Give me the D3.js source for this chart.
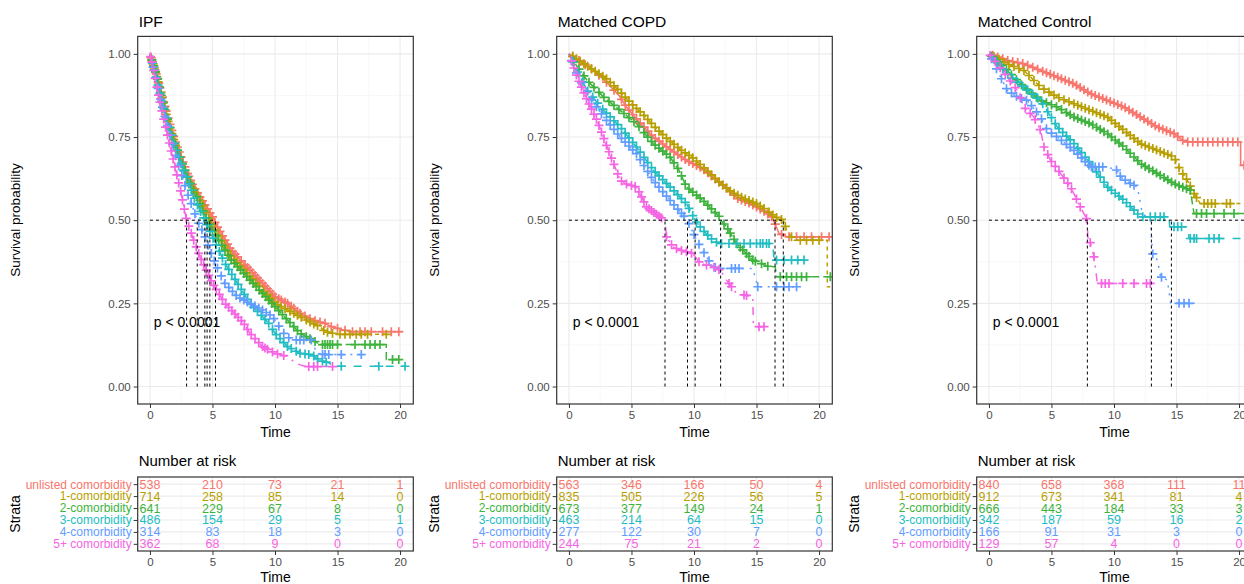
<!DOCTYPE html>
<html><head><meta charset="utf-8">
<script src="https://cdn.jsdelivr.net/npm/d3@7"></script>
<style>body{margin:0;background:#fff}svg{display:block;font-family:"Liberation Sans",Arial,sans-serif}</style>
</head><body><svg id="c" width="1244" height="584"></svg>
<script>
// ---------- DATA ----------
const strata = ["unlisted comorbidity","1-comorbidity","2-comorbidity","3-comorbidity","4-comorbidity","5+ comorbidity"];
const colors = ["#F8766D","#B79F00","#3DB33D","#22BDC2","#619CFF","#F564E3"];
const dashes = [null,"4,4","8,4","8,8","2,6","2,6,8,6"];
const panelTitles = ["IPF","Matched COPD","Matched Control"];
const xTicks = [0,5,10,15,20];
const yTicks = [0,0.25,0.5,0.75,1];
const yTickLabels = ["0.00","0.25","0.50","0.75","1.00"];
const riskTimes = [0,5,10,15,20];
const pLabel = "p < 0.0001";

// IPF curves [time, survival]
const ipf_unlisted = [[0,1],[0.5,0.94],[1,0.87],[1.5,0.80],[2,0.74],[2.5,0.69],[3,0.64],[3.5,0.60],[4,0.57],[4.5,0.54],[5,0.51],[5.24,0.49],[6,0.44],[6.5,0.41],[7,0.39],[7.5,0.37],[8,0.35],[8.5,0.33],[9,0.31],[9.5,0.29],[10,0.27],[10.5,0.26],[11,0.25],[12,0.22],[13,0.20],[14,0.19],[14.5,0.18],[15.5,0.17],[16,0.165],[20.2,0.165]];
const ipf_c1 = [[0,1],[0.5,0.94],[1,0.86],[1.5,0.79],[2,0.73],[2.5,0.68],[3,0.63],[3.5,0.59],[4,0.56],[4.5,0.52],[4.79,0.50],[5.5,0.45],[6,0.42],[6.5,0.39],[7,0.37],[7.5,0.35],[8,0.33],[8.5,0.31],[9,0.29],[9.5,0.27],[10,0.25],[11,0.23],[12,0.21],[13,0.19],[13.6,0.18],[14,0.165],[15,0.157],[19.3,0.157]];
const ipf_c2 = [[0,1],[0.5,0.94],[1,0.86],[1.5,0.79],[2,0.73],[2.5,0.68],[3,0.63],[3.5,0.59],[4,0.55],[4.57,0.50],[5,0.47],[5.5,0.44],[6,0.41],[6.5,0.38],[7,0.36],[7.5,0.34],[8,0.32],[8.5,0.30],[9,0.28],[9.5,0.26],[10,0.24],[10.5,0.22],[11,0.20],[11.5,0.18],[12,0.16],[12.5,0.15],[13,0.14],[13.6,0.126],[18.9,0.126],[18.9,0.081],[19.9,0.081]];
const ipf_c3 = [[0,1],[0.5,0.93],[1,0.85],[1.5,0.78],[2,0.72],[2.5,0.67],[3,0.62],[3.5,0.57],[4,0.53],[4.39,0.50],[5,0.45],[5.5,0.41],[6,0.37],[6.5,0.34],[7,0.31],[7.5,0.28],[8,0.25],[8.5,0.23],[9,0.21],[9.5,0.19],[10,0.16],[10.5,0.14],[11,0.12],[12,0.10],[13,0.095],[13.5,0.08],[14.4,0.07],[14.5,0.061],[20.5,0.061]];
const ipf_c4 = [[0,1],[0.5,0.92],[1,0.84],[1.5,0.77],[2,0.70],[2.5,0.64],[3,0.58],[3.5,0.53],[3.78,0.50],[4.3,0.46],[5,0.39],[5.6,0.34],[6,0.31],[6.5,0.29],[7,0.27],[8,0.25],[9,0.23],[9.8,0.21],[10.5,0.17],[10.9,0.15],[11.5,0.14],[13,0.14],[13.3,0.10],[14,0.096],[16.9,0.096]];
const ipf_c5 = [[0,1],[0.3,0.95],[0.6,0.89],[1,0.82],[1.5,0.74],[2,0.66],[2.5,0.58],[2.93,0.50],[3.5,0.44],[4,0.39],[4.5,0.35],[5,0.31],[5.5,0.28],[6,0.25],[6.5,0.23],[7,0.21],[7.5,0.19],[8,0.16],[8.5,0.14],[9,0.12],[9.5,0.11],[10,0.10],[10.5,0.095],[11,0.09],[11.5,0.075],[12,0.065],[12.5,0.06],[14.6,0.06]];
const ipf_medians = [2.93,3.78,4.39,4.57,4.79,5.24];

// IPF censor times
const ipf_unlisted_cens = [0.1,0.2,0.3,0.4,0.5,0.6,0.7,0.8,0.9,1.0,1.1,1.2,1.3,1.45,1.6,1.75,1.9,2.05,2.2,2.35,2.5,2.65,2.8,3.0,3.1,3.25,3.4,3.6,3.8,4.0,4.2,4.4,4.6,4.8,5.0,5.2,5.4,5.6,5.8,6.0,6.2,6.4,6.6,6.8,7.0,7.3,7.6,7.8,8.0,8.2,8.4,8.6,8.8,9.0,9.2,9.4,9.6,9.8,10.0,10.3,10.5,10.8,11.0,11.3,11.5,11.8,12.0,12.4,12.8,13.2,13.6,14.0,14.5,15.0,15.6,16.2,16.8,17.2,17.7,18.6,19.3,19.9];
const ipf_c1_cens = [0.15,0.25,0.35,0.45,0.55,0.65,0.75,0.85,0.95,1.05,1.15,1.3,1.45,1.6,1.75,1.9,2.05,2.2,2.4,2.6,2.8,3.0,3.2,3.4,3.6,3.8,4.0,4.2,4.45,4.7,4.95,5.2,5.45,5.7,5.95,6.2,6.45,6.7,6.95,7.2,7.45,7.7,7.95,8.2,8.45,8.7,9.1,9.4,9.6,9.9,10.2,10.5,10.8,11.2,11.5,11.8,12.1,12.5,12.8,13.1,13.4,13.9,14.2,14.6,15.2,15.6,16.0,16.5,16.9,17.4,18.9];
const ipf_c2_cens = [0.15,0.3,0.45,0.6,0.75,0.9,1.05,1.2,1.4,1.6,1.8,2.0,2.2,2.4,2.6,2.8,3.0,3.25,3.5,3.75,4.0,4.25,4.5,4.75,5.0,5.25,5.5,5.75,6.0,6.25,6.5,6.75,7.0,7.25,7.5,7.75,8.0,8.25,8.5,8.75,9.0,9.25,9.5,9.75,10.0,10.3,10.6,10.9,11.2,11.5,11.8,12.1,12.5,12.8,13.2,13.8,14.0,14.2,14.4,14.6,15.0,16.4,17.2,17.6,18.0,18.4,19.4,19.9];
const ipf_c3_cens = [0.2,0.35,0.5,0.65,0.8,0.95,1.1,1.3,1.5,1.7,1.9,2.1,2.3,2.5,2.7,2.9,3.1,3.3,3.55,3.8,4.05,4.3,4.55,4.8,5.05,5.3,5.55,5.8,6.05,6.3,6.55,6.8,7.05,7.3,7.55,7.8,8.05,8.3,8.6,8.9,9.2,9.5,9.8,10.1,10.4,10.7,11.0,11.3,11.7,12.0,12.4,12.7,13.1,13.4,13.8,14.1,15.3,18.3,20.4];
const ipf_c4_cens = [0.25,0.45,0.65,0.85,1.0,1.2,1.4,1.6,1.8,2.05,2.3,2.55,2.8,3.05,3.3,3.6,3.9,4.15,4.4,4.65,4.9,5.15,5.4,5.7,6.0,6.3,6.6,6.9,7.2,7.5,7.8,8.1,8.4,8.7,9.0,9.3,9.6,9.9,10.3,10.7,11.1,11.7,12.0,12.3,12.9,13.8,14.0,14.3,15.3,16.9];
const ipf_c5_cens = [0.05,0.15,0.3,0.42,0.55,0.68,0.8,0.95,1.1,1.25,1.4,1.55,1.7,1.85,2.0,2.15,2.3,2.45,2.6,2.75,2.9,3.1,3.3,3.5,3.7,3.9,4.1,4.3,4.5,4.7,4.9,5.1,5.3,5.55,5.8,6.05,6.3,6.55,6.8,7.05,7.3,7.55,7.8,8.1,8.4,8.7,9.0,9.2,9.4,9.8,10.2,10.7,12.7,13.1,13.4,14.6];

// COPD curves
const copd_unlisted = [[0,1],[1,0.975],[2,0.95],[3,0.915],[4,0.875],[4.6,0.84],[5.5,0.80],[6.75,0.75],[8,0.715],[9.4,0.68],[10.7,0.655],[11.5,0.63],[12.5,0.60],[13.5,0.565],[14.5,0.55],[15.5,0.53],[16.2,0.51],[16.48,0.49],[16.8,0.46],[17.5,0.45],[20.9,0.45]];
const copd_c1 = [[0,1],[1,0.975],[2,0.95],[3,0.925],[4,0.89],[5,0.85],[6,0.815],[7,0.775],[8,0.74],[9,0.71],[10,0.685],[11,0.65],[12,0.615],[13,0.585],[14,0.565],[15,0.55],[15.8,0.53],[16.5,0.51],[17.14,0.50],[17.4,0.47],[18,0.44],[20.66,0.44],[20.66,0.30],[20.9,0.30]];
const copd_c2 = [[0,1],[0.5,0.97],[1.46,0.92],[2.78,0.87],[4.1,0.83],[5.4,0.79],[6.75,0.73],[8.08,0.69],[8.8,0.65],[9.4,0.60],[10.7,0.56],[12.05,0.51],[12.13,0.50],[12.6,0.48],[13.4,0.43],[14.7,0.38],[16,0.36],[16.5,0.36],[16.6,0.33],[20.9,0.33]];
const copd_c3 = [[0,1],[0.5,0.96],[1.46,0.89],[2.78,0.83],[4.1,0.78],[5.4,0.72],[6.75,0.65],[8.08,0.60],[9.4,0.55],[10.09,0.50],[10.7,0.47],[11.5,0.44],[12,0.43],[16.3,0.43],[16.4,0.38],[18.8,0.38]];
const copd_c4 = [[0,1],[0.5,0.95],[1.46,0.88],[2.78,0.81],[4.1,0.75],[5.4,0.70],[6.75,0.62],[8.08,0.56],[9.48,0.50],[10.2,0.44],[11,0.39],[11.5,0.36],[12,0.355],[14.7,0.355],[15.1,0.30],[18.3,0.30]];
const copd_c5 = [[0,1],[0.66,0.93],[1.46,0.86],[2.25,0.80],[3.05,0.72],[4.1,0.62],[4.5,0.61],[5.4,0.60],[6.2,0.54],[7.28,0.51],[7.68,0.50],[7.8,0.45],[8.3,0.42],[8.9,0.41],[9.9,0.40],[10.5,0.37],[11.5,0.36],[12.1,0.35],[12.6,0.32],[13.4,0.28],[14.7,0.27],[14.75,0.18],[16.0,0.18]];
const copd_medians = [7.68,9.48,10.09,12.13,16.48,17.14];

const copd_unlisted_cens = [0.3,0.8,1.3,1.8,2.4,3.0,3.6,4.2,4.5,4.8,5.1,5.4,5.7,6.0,6.3,6.6,6.9,7.2,7.5,7.8,8.1,8.4,8.7,9.0,9.3,9.6,9.9,10.2,10.5,10.8,11.1,11.4,11.7,12.0,12.3,12.6,12.9,13.2,13.5,13.8,14.1,14.4,14.7,15.0,15.3,15.6,15.9,16.2,16.5,17.0,17.6,18.2,18.8,19.4,20.2,20.8];
const copd_c1_cens = [0.3,0.6,0.9,1.2,1.5,1.8,2.1,2.4,2.7,3.0,3.3,3.6,3.9,4.2,4.5,4.8,5.1,5.4,5.7,6.0,6.3,6.6,6.9,7.2,7.5,7.8,8.1,8.4,8.7,9.0,9.3,9.6,9.9,10.2,10.5,10.8,11.1,11.4,11.7,12.0,12.3,12.6,12.9,13.2,13.5,13.8,14.1,14.4,14.7,15.0,15.3,15.6,16.0,16.3,16.6,17.0,17.3,17.8,18.5,19.0,19.5,20.0];
const copd_c2_cens = [0.4,0.8,1.2,1.6,2.0,2.4,2.8,3.2,3.6,4.0,4.4,4.8,5.2,5.6,6.0,6.3,6.6,6.9,7.2,7.5,7.8,8.1,8.4,8.7,9.0,9.3,9.6,9.9,10.2,10.5,10.8,11.1,11.4,11.7,12.0,12.4,12.7,12.9,13.2,13.4,13.7,13.9,14.2,14.4,14.7,14.9,15.4,15.9,16.9,17.4,17.8,18.2,18.6,19.0,20.9];
const copd_c3_cens = [0.3,0.7,1.1,1.5,1.9,2.3,2.7,3.0,3.3,3.6,3.9,4.2,4.5,4.8,5.1,5.4,5.7,6.0,6.3,6.6,6.9,7.2,7.5,7.8,8.1,8.4,8.7,9.0,9.3,9.6,9.9,10.2,10.5,10.8,11.1,11.4,11.8,12.2,12.8,13.4,14.0,14.5,15.0,15.3,15.5,15.8,16.0,16.6,17.2,17.8,18.3,18.8];
const copd_c4_cens = [0.2,0.6,1.0,1.4,1.8,2.2,2.6,3.0,3.3,3.6,3.9,4.2,4.5,4.8,5.1,5.4,5.7,6.0,6.3,6.6,6.9,7.2,7.5,7.8,8.1,8.4,8.7,9.0,9.2,9.6,10.0,10.4,10.8,11.2,11.7,12.1,13.0,13.3,13.6,15.1,16.6,17.2,17.6,18.2];
const copd_c5_cens = [0.2,0.4,0.6,0.8,1.0,1.2,1.4,1.6,1.8,2.0,2.2,2.4,2.6,2.8,3.0,3.2,3.4,3.6,3.9,4.2,4.6,5.0,5.3,5.6,5.8,6.0,6.2,6.4,6.6,6.8,7.0,7.2,7.4,7.8,8.2,8.6,9.0,9.4,9.8,10.4,11.0,11.6,12.0,12.8,13.0,14.0,14.2,15.2,15.6];

// Matched Control curves
const ctrl_unlisted = [[0,1],[1.47,0.98],[2.8,0.97],[4.13,0.95],[5.47,0.93],[6.8,0.91],[8.13,0.88],[9.47,0.86],[10.8,0.84],[12.13,0.81],[13.47,0.78],[14.8,0.76],[15.5,0.74],[15.87,0.735],[20.13,0.735],[20.13,0.665],[21,0.665]];
const ctrl_c1 = [[0,1],[1.47,0.97],[2.8,0.95],[4.13,0.90],[5.47,0.87],[6.8,0.85],[8.13,0.83],[9.47,0.81],[10.8,0.77],[12.13,0.73],[13.47,0.71],[14.8,0.69],[15.3,0.65],[15.87,0.62],[16.4,0.58],[16.9,0.55],[21,0.55]];
const ctrl_c2 = [[0,1],[1.47,0.95],[2.8,0.90],[4.13,0.86],[5.47,0.84],[6.8,0.81],[8.13,0.79],[9.47,0.76],[10.8,0.72],[12.13,0.67],[13.47,0.64],[14.8,0.61],[16.1,0.59],[16.4,0.52],[20.6,0.52],[20.6,0.35],[21,0.35]];
const ctrl_c3 = [[0,1],[1.47,0.94],[2.8,0.90],[4.13,0.86],[5.47,0.78],[6.8,0.73],[8.13,0.67],[9.47,0.60],[10.8,0.56],[11.6,0.53],[12.13,0.51],[14.4,0.51],[14.45,0.48],[15.9,0.48],[16.0,0.445],[21,0.445]];
const ctrl_c4 = [[0,1],[1.47,0.89],[2.3,0.87],[3.07,0.86],[4.13,0.81],[4.67,0.77],[5.47,0.75],[6.8,0.71],[8.13,0.66],[9.47,0.66],[10.27,0.65],[10.53,0.63],[11.33,0.61],[11.87,0.60],[12.27,0.52],[12.93,0.50],[13.07,0.40],[13.47,0.38],[13.73,0.33],[14.27,0.32],[14.53,0.25],[16.8,0.25]];
const ctrl_c5 = [[0,1],[0.66,0.97],[1.47,0.93],[2.27,0.89],[2.8,0.84],[3.6,0.81],[4.13,0.77],[4.4,0.72],[4.93,0.68],[5.73,0.64],[6.53,0.60],[7.3,0.54],[7.73,0.51],[7.87,0.50],[7.9,0.45],[8.13,0.43],[8.4,0.39],[8.67,0.31],[13.07,0.31]];
const ctrl_medians = [7.87,12.99,14.59];

const ctrl_unlisted_cens = [0.3,0.7,1.1,1.5,1.9,2.3,2.7,3.1,3.5,3.9,4.3,4.6,4.9,5.2,5.5,5.8,6.1,6.4,6.7,7.0,7.3,7.6,7.9,8.2,8.5,8.8,9.1,9.4,9.7,10.0,10.3,10.6,10.9,11.2,11.5,11.8,12.1,12.4,12.7,13.0,13.3,13.6,13.9,14.2,14.5,14.8,15.1,15.5,15.9,16.3,16.7,17.1,17.5,17.9,18.3,18.7,19.1,19.5,19.9,20.4];
const ctrl_c1_cens = [0.4,0.8,1.2,1.6,2.0,2.4,2.8,3.2,3.6,4.0,4.4,4.8,5.2,5.6,6.0,6.4,6.8,7.1,7.4,7.7,8.0,8.3,8.6,8.9,9.2,9.5,9.8,10.1,10.4,10.7,11.0,11.3,11.6,11.9,12.2,12.5,12.8,13.1,13.4,13.7,14.0,14.3,14.6,14.9,15.2,15.5,15.8,16.1,16.4,16.6,17.2,17.5,17.8,18.1,19.0,19.3];
const ctrl_c2_cens = [0.2,0.6,1.0,1.4,1.8,2.2,2.6,3.0,3.4,3.8,4.2,4.6,5.0,5.4,5.8,6.2,6.5,6.8,7.1,7.4,7.7,8.0,8.3,8.6,8.9,9.2,9.5,9.8,10.1,10.4,10.7,11.0,11.3,11.6,11.9,12.2,12.5,12.8,13.1,13.4,13.7,14.0,14.3,14.6,14.9,15.2,15.5,15.8,16.1,16.6,17.0,17.4,18.0,18.8,19.6];
const ctrl_c3_cens = [0.3,0.7,1.1,1.5,1.9,2.3,2.7,3.1,3.5,3.9,4.3,4.7,5.0,5.3,5.6,5.9,6.2,6.5,6.8,7.1,7.4,7.7,8.0,8.3,8.6,8.9,9.2,9.5,9.8,10.1,10.4,10.7,11.0,11.3,11.6,11.9,12.3,12.9,13.3,13.7,14.0,14.8,15.1,15.4,16.1,16.4,16.6,17.6,18.0,18.4];
const ctrl_c4_cens = [0.2,0.6,1.0,1.4,1.8,2.2,2.6,3.0,3.4,3.8,4.2,4.6,5.0,5.4,5.8,6.2,6.5,6.8,7.1,7.4,7.7,8.0,8.2,8.5,8.8,9.1,10.2,10.5,10.9,11.3,11.6,13.1,13.8,15.2,15.6,16.0];
const ctrl_c5_cens = [0.1,0.5,0.9,1.3,1.7,2.1,2.5,2.9,3.3,3.7,4.1,4.4,4.7,5.0,5.3,5.6,6.0,6.3,6.6,7.0,7.3,7.8,8.1,8.4,9.0,9.3,9.6,10.7,11.6,12.6,12.9];

// Number at risk tables (rows = strata, cols = riskTimes)
const ipf_risk = [[538,210,73,21,1],[714,258,85,14,0],[641,229,67,8,0],[486,154,29,5,1],[314,83,18,3,0],[362,68,9,0,0]];
const copd_risk = [[563,346,166,50,4],[835,505,226,56,5],[673,377,149,24,1],[463,214,64,15,0],[277,122,30,7,0],[244,75,21,2,0]];
const ctrl_risk = [[840,658,368,111,11],[912,673,341,81,4],[666,443,184,33,3],[342,187,59,16,2],[166,91,31,3,0],[129,57,4,0,0]];

// ---------- ASSEMBLY ----------
const panels = [
  {title:panelTitles[0], curves:[ipf_unlisted,ipf_c1,ipf_c2,ipf_c3,ipf_c4,ipf_c5], cens:[ipf_unlisted_cens,ipf_c1_cens,ipf_c2_cens,ipf_c3_cens,ipf_c4_cens,ipf_c5_cens], medians:ipf_medians, risk:ipf_risk, hEnd:null},
  {title:panelTitles[1], curves:[copd_unlisted,copd_c1,copd_c2,copd_c3,copd_c4,copd_c5], cens:[copd_unlisted_cens,copd_c1_cens,copd_c2_cens,copd_c3_cens,copd_c4_cens,copd_c5_cens], medians:copd_medians, risk:copd_risk, hEnd:null},
  {title:panelTitles[2], curves:[ctrl_unlisted,ctrl_c1,ctrl_c2,ctrl_c3,ctrl_c4,ctrl_c5], cens:[ctrl_unlisted_cens,ctrl_c1_cens,ctrl_c2_cens,ctrl_c3_cens,ctrl_c4_cens,ctrl_c5_cens], medians:ctrl_medians, risk:ctrl_risk, hEnd:21.2}
];
const offsets = [0, 419, 839];

const svg = d3.select("#c");
const PL = 137.7, PR = 413.3, PT = 36.4, PB = 404;
const TT = 477, TB = 551;
const x = d3.scaleLinear().domain([-0.98, 21.06]).range([PL, PR]);
const y = d3.scaleLinear().domain([-0.0525, 1.0525]).range([PB, PT]);
const yr = d3.scalePoint().domain(strata).range([TT, TB]).padding(0.6);
const tickCol = "#4d4d4d", border = "#333333", grid = "#ebebeb", gridMinor = "#f4f4f4";

function survAt(pts, t){
  for (let i = pts.length - 1; i >= 0; i--) {
    if (pts[i][0] <= t) {
      if (i === pts.length - 1) return pts[i][1];
      const a = pts[i], b = pts[i+1];
      if (b[0] === a[0]) return b[1];
      return a[1] + (b[1]-a[1]) * (t - a[0]) / (b[0]-a[0]);
    }
  }
  return 1;
}

panels.forEach((p, pi) => {
  const g = svg.append("g").attr("transform", `translate(${offsets[pi]},0)`);
  const clipId = "clip" + pi;
  g.append("clipPath").attr("id", clipId).append("rect")
    .attr("x", PL).attr("y", PT).attr("width", PR-PL).attr("height", PB-PT);

  // grid
  const minorX = [-2.5,2.5,7.5,12.5,17.5];
  const minorY = [0.125,0.375,0.625,0.875];
  const gg = g.append("g").attr("clip-path", `url(#${clipId})`);
  minorX.forEach(v => gg.append("line").attr("x1", x(v)).attr("x2", x(v)).attr("y1", PT).attr("y2", PB).attr("stroke", gridMinor).attr("stroke-width", 0.6));
  minorY.forEach(v => gg.append("line").attr("y1", y(v)).attr("y2", y(v)).attr("x1", PL).attr("x2", PR).attr("stroke", gridMinor).attr("stroke-width", 0.6));
  xTicks.forEach(v => gg.append("line").attr("x1", x(v)).attr("x2", x(v)).attr("y1", PT).attr("y2", PB).attr("stroke", grid).attr("stroke-width", 1.1));
  yTicks.forEach(v => gg.append("line").attr("y1", y(v)).attr("y2", y(v)).attr("x1", PL).attr("x2", PR).attr("stroke", grid).attr("stroke-width", 1.1));

  // curves
  const line = d3.line().x(d => x(d[0])).y(d => y(d[1])).curve(d3.curveLinear);
  const cg = g.append("g").attr("clip-path", `url(#${clipId})`);
  p.curves.forEach((c, si) => {
    cg.append("path").attr("d", line(c)).attr("fill", "none")
      .attr("stroke", colors[si]).attr("stroke-width", 1.5)
      .attr("stroke-dasharray", dashes[si]);
  });
  // censor marks
  p.cens.forEach((cs, si) => {
    cs.forEach(t => {
      const cx = x(t), cy = y(survAt(p.curves[si], t));
      cg.append("path").attr("d", `M${cx-4.5},${cy}H${cx+4.5}M${cx},${cy-4.5}V${cy+4.5}`)
        .attr("stroke", colors[si]).attr("stroke-width", 1.7).attr("fill", "none");
    });
  });
  // median lines
  const mg = g.append("g").attr("clip-path", `url(#${clipId})`);
  const hEnd = p.hEnd !== null ? p.hEnd : d3.max(p.medians);
  mg.append("line").attr("x1", x(0)).attr("x2", x(hEnd)).attr("y1", y(0.5)).attr("y2", y(0.5))
    .attr("stroke", "#000").attr("stroke-width", 1).attr("stroke-dasharray", "3,3");
  p.medians.forEach(m => mg.append("line").attr("x1", x(m)).attr("x2", x(m)).attr("y1", y(0)).attr("y2", y(0.5))
    .attr("stroke", "#000").attr("stroke-width", 1).attr("stroke-dasharray", "3,3"));

  // p value
  g.append("text").attr("x", x(0.3)).attr("y", y(0.19)).attr("font-size", 14).attr("dominant-baseline", "middle").text(pLabel);

  // border
  g.append("rect").attr("x", PL).attr("y", PT).attr("width", PR-PL).attr("height", PB-PT)
    .attr("fill", "none").attr("stroke", border).attr("stroke-width", 1.2);

  // axes
  const xa = g.append("g").attr("transform", `translate(0,${PB})`)
    .call(d3.axisBottom(x).tickValues(xTicks).tickSize(4).tickPadding(3).tickFormat(d3.format("d")));
  xa.select(".domain").remove();
  xa.selectAll("line").attr("stroke", border);
  xa.selectAll("text").attr("fill", tickCol).attr("font-size", 11.5).attr("font-family", null);
  const ya = g.append("g").attr("transform", `translate(${PL},0)`)
    .call(d3.axisLeft(y).tickValues(yTicks).tickSize(4).tickPadding(3).tickFormat((d,i) => yTickLabels[i]));
  ya.select(".domain").remove();
  ya.selectAll("line").attr("stroke", border);
  ya.selectAll("text").attr("fill", tickCol).attr("font-size", 11.5).attr("font-family", null);

  g.append("text").attr("x", PL + 1).attr("y", 27).attr("font-size", 15.5).text(p.title);
  g.append("text").attr("x", (PL+PR)/2).attr("y", 437).attr("text-anchor", "middle").attr("font-size", 14).text("Time");
  g.append("text").attr("transform", `translate(20,220) rotate(-90)`).attr("text-anchor", "middle").attr("font-size", 13.5).text("Survival probability");

  // ---- risk table ----
  g.append("text").attr("x", PL + 1).attr("y", 466).attr("font-size", 15).text("Number at risk");
  const tg = g.append("g");
  const tclip = "tclip" + pi;
  tg.append("clipPath").attr("id", tclip).append("rect").attr("x", PL).attr("y", TT).attr("width", PR-PL).attr("height", TB-TT);
  const tgg = tg.append("g").attr("clip-path", `url(#${tclip})`);
  minorX.forEach(v => tgg.append("line").attr("x1", x(v)).attr("x2", x(v)).attr("y1", TT).attr("y2", TB).attr("stroke", gridMinor).attr("stroke-width", 0.6));
  xTicks.forEach(v => tgg.append("line").attr("x1", x(v)).attr("x2", x(v)).attr("y1", TT).attr("y2", TB).attr("stroke", grid).attr("stroke-width", 1.1));
  strata.forEach(s => tgg.append("line").attr("x1", PL).attr("x2", PR).attr("y1", yr(s)).attr("y2", yr(s)).attr("stroke", grid).attr("stroke-width", 1.1));
  p.risk.forEach((row, si) => row.forEach((v, ti) => {
    tg.append("text").attr("x", x(riskTimes[ti])).attr("y", yr(strata[si])).attr("dy", "0.36em")
      .attr("text-anchor", "middle").attr("font-size", 12.5).attr("fill", colors[si]).text(v);
  }));
  tg.append("rect").attr("x", PL).attr("y", TT).attr("width", PR-PL).attr("height", TB-TT)
    .attr("fill", "none").attr("stroke", border).attr("stroke-width", 1.2);
  const txa = tg.append("g").attr("transform", `translate(0,${TB})`)
    .call(d3.axisBottom(x).tickValues(riskTimes).tickSize(4).tickPadding(3).tickFormat(d3.format("d")));
  txa.select(".domain").remove();
  txa.selectAll("line").attr("stroke", border);
  txa.selectAll("text").attr("fill", tickCol).attr("font-size", 11.5).attr("font-family", null);
  const tya = tg.append("g").attr("transform", `translate(${PL},0)`)
    .call(d3.axisLeft(yr).tickSize(4).tickPadding(2));
  tya.select(".domain").remove();
  tya.selectAll("line").attr("stroke", border);
  tya.selectAll("text").attr("fill", (d,i) => colors[i]).attr("font-size", 12).attr("font-family", null);
  g.append("text").attr("x", (PL+PR)/2).attr("y", 582).attr("text-anchor", "middle").attr("font-size", 14).text("Time");
  g.append("text").attr("transform", `translate(20,514) rotate(-90)`).attr("text-anchor", "middle").attr("font-size", 14).text("Strata");
});
</script></body></html>
